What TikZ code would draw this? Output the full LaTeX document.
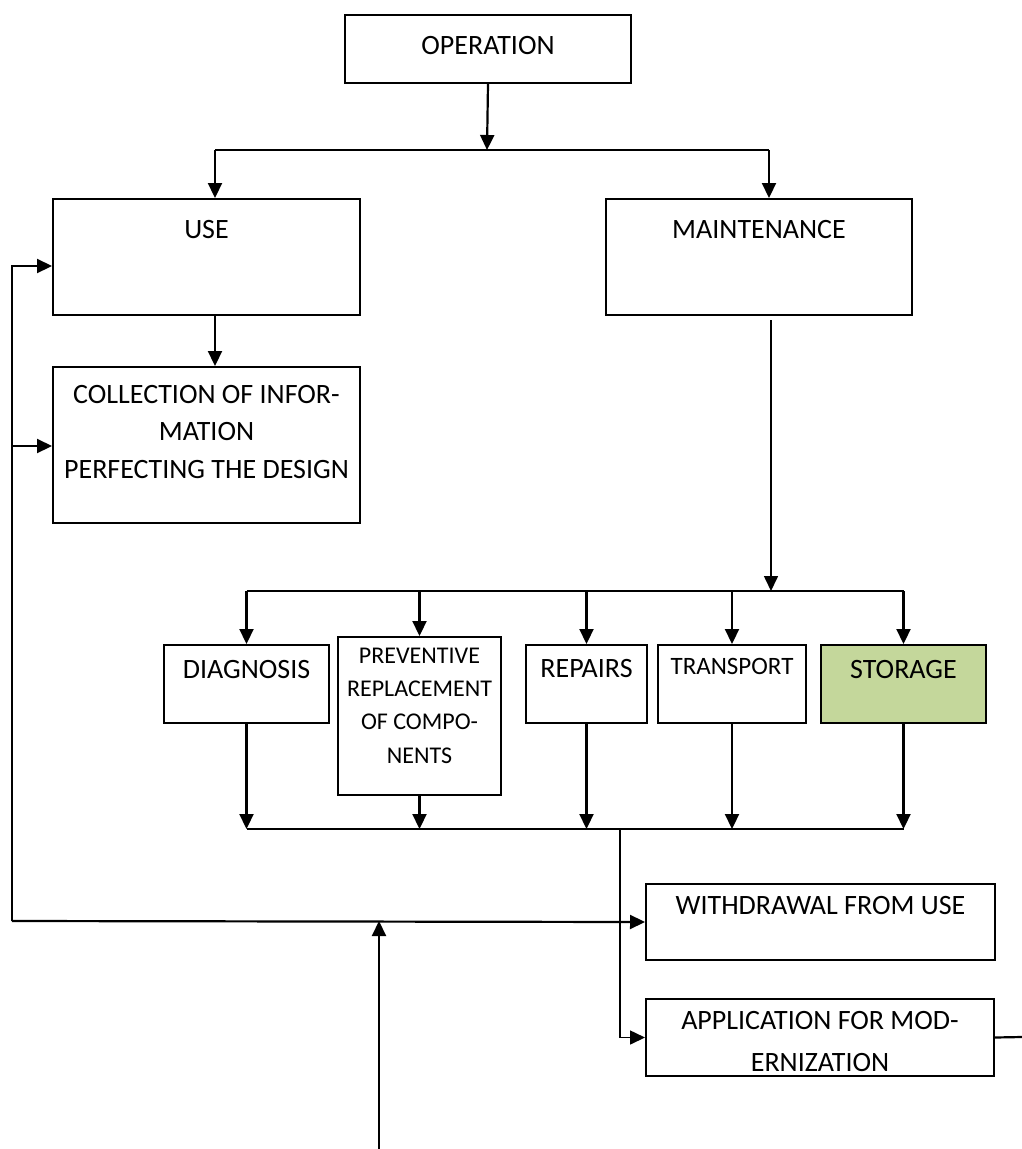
\documentclass[tikz,border=0pt]{standalone}
\usepackage{fontspec}
\setmainfont{Carlito}
\usetikzlibrary{arrows.meta}
\definecolor{storagegreen}{HTML}{C4D79B}

\begin{document}
\begin{tikzpicture}[x=1pt, y=-1pt,
	box/.style={draw, line width=2pt, inner sep=0pt, anchor=north west, align=center,
		font=\fontsize{28}{34}\selectfont},
	small/.style={font=\fontsize{24}{33.3}\selectfont},
	ln/.style={line width=2.2pt},
	thin/.style={line width=1.6pt},
	arr/.style={line width=2.2pt, -{Triangle[length=15pt,width=14pt]}}]
\useasboundingbox (0,0) rectangle (1022,1149);

\node[box, minimum width=286pt, minimum height=68.5pt, text height=39.5pt, text depth=29pt] (op) at (344,13.5) {OPERATION};
\node[box, minimum width=307pt, minimum height=116pt, text height=39pt, text depth=77pt] (use) at (52,198) {USE};
\node[box, minimum width=306pt, minimum height=116pt, text height=39pt, text depth=77pt] (maint) at (605,198) {MAINTENANCE};
\node[box, font=\fontsize{28}{37.5}\selectfont, minimum width=307pt, minimum height=156pt, text height=111pt, text depth=45pt] (coll) at (52,366)
	{COLLECTION OF INFOR-\\MATION\\PERFECTING THE DESIGN};

\node[box, minimum width=165pt, minimum height=78pt, text height=33pt, text depth=45pt] (diag) at (163,644) {DIAGNOSIS};
\node[box, small, minimum width=163pt, minimum height=158pt, text height=126pt, text depth=32pt] (prev) at (337,636)
	{PREVENTIVE\\REPLACEMENT\\OF COMPO-\\NENTS};
\node[box, minimum width=121pt, minimum height=78pt, text height=32pt, text depth=46pt] (rep) at (525,644) {REPAIRS};
\node[box, font=\fontsize{25}{30}\selectfont, minimum width=148pt, minimum height=78pt, text height=29pt, text depth=49pt] (trans) at (657,644) {TRANSPORT};
\node[box, fill=storagegreen, minimum width=165pt, minimum height=78pt, text height=33pt, text depth=45pt] (stor) at (820,644) {STORAGE};

\node[box, minimum width=349pt, minimum height=76pt, text height=30pt, text depth=46pt] (wd) at (645,883) {WITHDRAWAL FROM USE};
\node[box, font=\fontsize{28}{42}\selectfont, minimum width=348pt, minimum height=77pt, text height=72pt, text depth=5pt] (app) at (645,998)
	{APPLICATION FOR MOD-\\ERNIZATION};

\coordinate (s1) at (487,150);
\coordinate (ul) at (215,150);
\coordinate (ml) at (769,150);
\coordinate (mt) at (771,591);
\coordinate (tl) at (247,591);
\coordinate (bl) at (247,829);
\coordinate (sp) at (620,829);
\coordinate (fb) at (12,921);
\coordinate (fu) at (12,266);
\coordinate (fc) at (12,446);
\coordinate (in) at (379,1149);
\coordinate (out) at (1022,1037);

\draw[arr] (op.south) -- (s1);
\draw[ln] (ul) -- (ml);
\draw[arr] (ul) -- (ul |- use.north);
\draw[arr] (ml) -- (ml |- maint.north);
\draw[arr] (ul |- use.south) -- (ul |- coll.north);
\draw[arr, thin, shorten <=4pt] (mt |- maint.south) -- (mt);

\draw[ln] (diag.north |- tl) -- (stor.north |- tl);
\draw[ln] (diag.south |- bl) -- (stor.south |- bl);
\foreach \n in {diag,prev,rep,trans,stor}{
	\draw[arr] (\n.north |- tl) -- (\n.north);
	\draw[arr] (\n.south) -- (\n.south |- bl);
}

\draw[arr, thin] (sp) |- (app.west);
\draw[ln] (app.east) -- (out);
\draw[arr] (fb) -- (fu) -- (fu -| use.west);
\draw[arr] (fc) -- (fc -| coll.west);
\draw[arr] (fb) -- (wd.west);
\draw[arr] (in) -- (in |- fb);
\end{tikzpicture}
\end{document}
